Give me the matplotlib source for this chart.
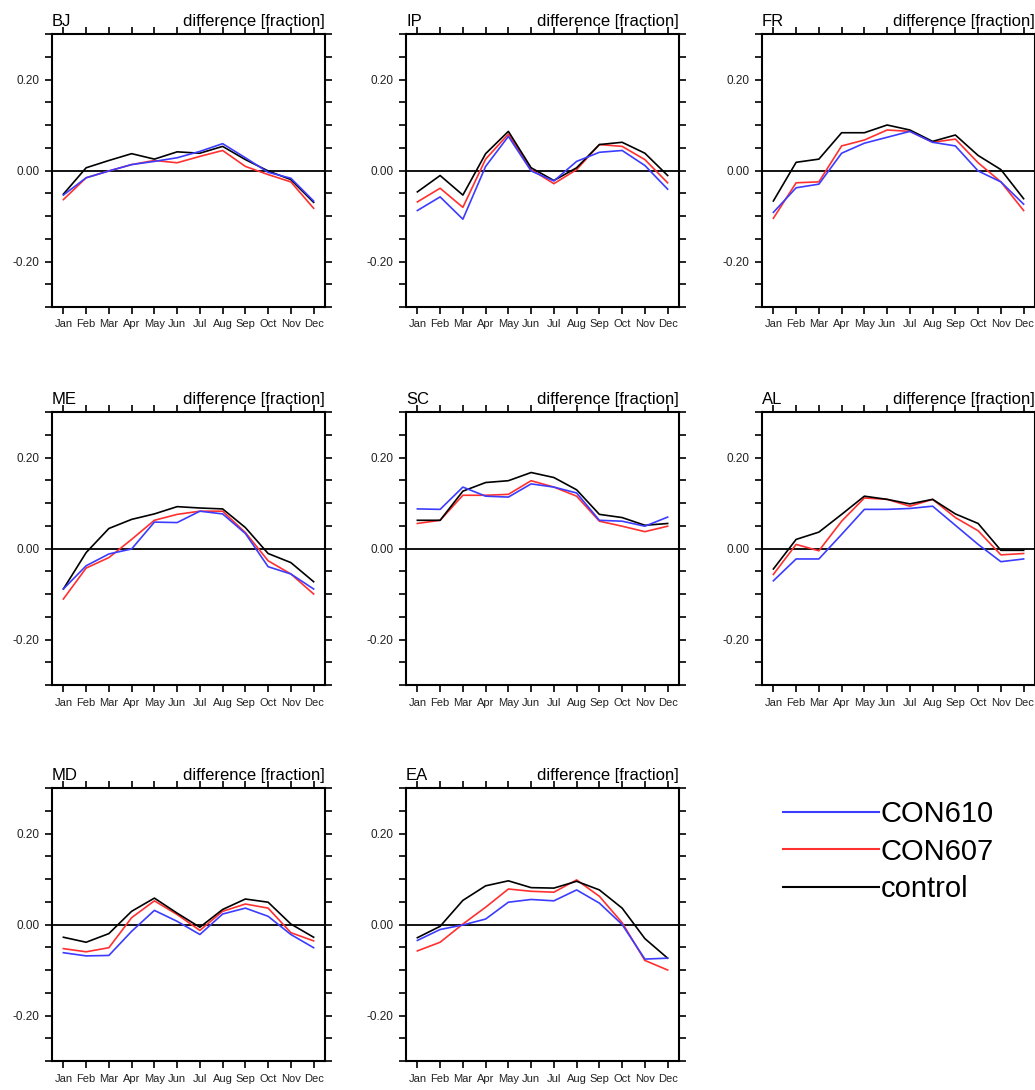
import numpy as np
import matplotlib
matplotlib.use("Agg")
from matplotlib import pyplot as plt
from matplotlib.lines import Line2D

plt.rcParams['font.family'] = ['Liberation Sans', 'DejaVu Sans']

months = ['Jan', 'Feb', 'Mar', 'Apr', 'May', 'Jun', 'Jul', 'Aug', 'Sep', 'Oct', 'Nov', 'Dec']
regions = ['BJ', 'IP', 'FR', 'ME', 'SC', 'AL', 'MD', 'EA']
ytick_vals = [-0.30, -0.25, -0.20, -0.15, -0.10, -0.05, 0.00, 0.05, 0.10, 0.15, 0.20, 0.25, 0.30]
ytick_text = ['', '', '-0.20', '', '', '', '0.00', '', '', '', '0.20', '', '']

# CON610 (blue)
con610 = {
    'BJ': [-0.054, -0.016, -0.001, 0.013, 0.020, 0.028, 0.042, 0.059, 0.028, -0.004, -0.017, -0.067],
    'IP': [-0.088, -0.058, -0.107, 0.009, 0.075, -0.001, -0.023, 0.020, 0.040, 0.044, 0.011, -0.041],
    'FR': [-0.092, -0.038, -0.030, 0.038, 0.060, 0.073, 0.086, 0.062, 0.054, -0.001, -0.025, -0.074],
    'ME': [-0.089, -0.038, -0.012, -0.001, 0.058, 0.057, 0.082, 0.076, 0.033, -0.040, -0.056, -0.089],
    'SC': [0.087, 0.086, 0.135, 0.115, 0.113, 0.142, 0.135, 0.122, 0.062, 0.060, 0.049, 0.069],
    'AL': [-0.071, -0.023, -0.023, 0.031, 0.086, 0.086, 0.088, 0.093, 0.051, 0.009, -0.029, -0.023],
    'MD': [-0.062, -0.069, -0.068, -0.015, 0.031, 0.007, -0.022, 0.023, 0.036, 0.018, -0.022, -0.051],
    'EA': [-0.035, -0.011, -0.001, 0.012, 0.049, 0.055, 0.052, 0.076, 0.047, 0.000, -0.076, -0.074],
}
# CON607 (red)
con607 = {
    'BJ': [-0.064, -0.016, -0.001, 0.013, 0.022, 0.017, 0.031, 0.044, 0.009, -0.009, -0.025, -0.083],
    'IP': [-0.069, -0.039, -0.081, 0.025, 0.080, 0.002, -0.029, 0.002, 0.057, 0.053, 0.024, -0.027],
    'FR': [-0.105, -0.027, -0.025, 0.054, 0.067, 0.089, 0.086, 0.062, 0.069, 0.017, -0.025, -0.088],
    'ME': [-0.111, -0.043, -0.020, 0.020, 0.062, 0.075, 0.082, 0.082, 0.035, -0.027, -0.056, -0.100],
    'SC': [0.055, 0.062, 0.117, 0.117, 0.119, 0.149, 0.135, 0.115, 0.060, 0.049, 0.037, 0.049],
    'AL': [-0.057, 0.009, -0.005, 0.060, 0.111, 0.108, 0.093, 0.108, 0.068, 0.039, -0.014, -0.011],
    'MD': [-0.053, -0.060, -0.051, 0.015, 0.052, 0.022, -0.013, 0.029, 0.045, 0.036, -0.018, -0.036],
    'EA': [-0.058, -0.039, 0.001, 0.038, 0.078, 0.073, 0.071, 0.098, 0.062, 0.004, -0.079, -0.100],
}
# control (black)
control = {
    'BJ': [-0.052, 0.006, 0.022, 0.037, 0.025, 0.041, 0.038, 0.053, 0.024, -0.001, -0.020, -0.070],
    'IP': [-0.047, -0.011, -0.054, 0.037, 0.086, 0.006, -0.022, 0.006, 0.057, 0.062, 0.038, -0.011],
    'FR': [-0.067, 0.018, 0.025, 0.083, 0.083, 0.100, 0.089, 0.064, 0.078, 0.033, 0.002, -0.062],
    'ME': [-0.089, -0.009, 0.044, 0.064, 0.076, 0.092, 0.089, 0.087, 0.046, -0.011, -0.031, -0.073],
    'SC': [0.062, 0.062, 0.126, 0.145, 0.149, 0.167, 0.156, 0.129, 0.075, 0.068, 0.051, 0.055],
    'AL': [-0.045, 0.020, 0.036, 0.075, 0.115, 0.108, 0.098, 0.108, 0.076, 0.055, -0.004, -0.004],
    'MD': [-0.028, -0.039, -0.020, 0.029, 0.058, 0.025, -0.006, 0.033, 0.056, 0.049, 0.001, -0.028],
    'EA': [-0.029, -0.004, 0.053, 0.085, 0.096, 0.081, 0.080, 0.095, 0.076, 0.036, -0.031, -0.074],
}

c_blue = '#3c3cff'
c_red = '#ff3030'

W, H = 1035, 1090
fig = plt.figure(figsize=(W / 100, H / 100), dpi=100)

col_left = [52, 406, 762]
row_top = [34, 412, 788]
aw, ah = 273, 273

x = np.arange(12)

for i, reg in enumerate(regions):
    r, c = divmod(i, 3)
    ax = fig.add_axes([col_left[c] / W, 1 - (row_top[r] + ah) / H, aw / W, ah / H])
    ax.axhline(0, color='black', lw=1.3, zorder=1)
    ax.plot(x, con610[reg], color=c_blue, lw=1.2, zorder=3)
    ax.plot(x, con607[reg], color=c_red, lw=1.2, zorder=2)
    ax.plot(x, control[reg], color='black', lw=1.2, zorder=2.5)
    ax.set_xlim(-0.5, 11.5)
    ax.set_ylim(-0.30, 0.30)
    ax.set_xticks(x)
    ax.set_xticklabels(months, fontsize=8, color='#222222')
    ax.set_yticks(ytick_vals)
    ax.set_yticklabels(ytick_text, fontsize=8.5, color='#222222')
    ax.tick_params(axis='both', direction='out', length=5, width=1.2,
                   top=True, right=True, pad=4)
    for s in ax.spines.values():
        s.set_linewidth(1.5)
    ax.text(0, 1.028, reg, transform=ax.transAxes, ha='left', va='baseline', fontsize=12)
    ax.text(1, 1.028, 'difference [fraction]', transform=ax.transAxes, ha='right',
            va='baseline', fontsize=12)

handles = [Line2D([], [], color=c_blue, lw=1.5),
           Line2D([], [], color=c_red, lw=1.5),
           Line2D([], [], color='black', lw=1.5)]
fig.legend(handles, ['CON610', 'CON607', 'control'], loc='upper left',
           bbox_to_anchor=(783 / W, 1 - 800 / H), frameon=False, fontsize=21,
           handlelength=3.3, handletextpad=0.05, labelspacing=0.33, borderpad=0,
           borderaxespad=0)

plt.savefig('out.png', dpi=100)
